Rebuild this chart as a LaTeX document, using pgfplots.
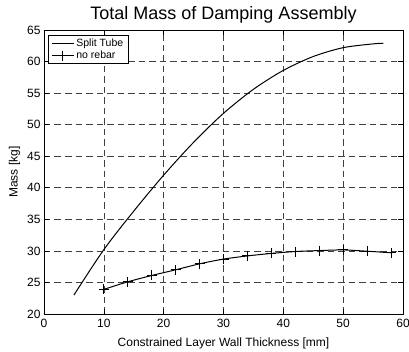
\documentclass[border=0pt]{standalone}
\usepackage{fontspec}
\setmainfont{Liberation Sans}
\usepackage{pgfplots}
\pgfplotsset{compat=1.18}
\begin{document}
\begin{tikzpicture}[x=1pt,y=1pt]
\begin{axis}[
  at={(0pt,0pt)}, anchor=south west,
  scale only axis,
  width=359pt, height=284pt,
  xmin=0, xmax=60, ymin=20, ymax=65,
  xtick={0,10,...,60}, ytick={20,25,...,65},
  tick align=inside, major tick length=5pt,
  tick style={black, line width=0.6pt},
  axis line style={black, line width=0.7pt},
  grid=major,
  major grid style={black!75, dash pattern=on 6.5pt off 4pt, line width=0.6pt},
  /pgf/number format/assume math mode=true,
  ticklabel style={font=\fontsize{12}{14}\selectfont},
  xticklabel style={anchor=base, yshift=-14pt},
  title={Total Mass of Damping Assembly},
  title style={font=\fontsize{18}{20}\selectfont, anchor=base, yshift=4pt},
  xlabel={Constrained Layer Wall Thickness [mm]},
  ylabel={Mass [kg]},
  label style={font=\fontsize{12}{14}\selectfont},
  xlabel style={at={(axis description cs:0.5,0)}, anchor=base, yshift=-33pt},
  ylabel style={at={(axis description cs:-0.0822,0.5)}, anchor=center},
  legend style={at={(axis description cs:0.0111,0.9824)}, anchor=north west, draw=black, line width=0.7pt,
    font=\fontsize{10.5}{12}\selectfont, inner xsep=3pt, inner ysep=1.5pt, row sep=-1pt, legend cell align=left},
  legend image code/.code={\draw[#1] (0pt,0pt) -- (22pt,0pt); \draw[#1, mark repeat=1] plot coordinates {(11pt,0pt)};},
]
\addplot[black, line width=1pt, smooth, no marks] coordinates {
(5,23.0) (10,30.2) (15,36.3) (20,42.0) (25,47.2) (30,51.8) (35,55.6) (40,58.6) (45,60.8) (50,62.2) (55,62.8) (56.7,62.9)};
\addlegendentry{Split Tube}
\addplot[black, line width=1pt, smooth, mark=+, mark size=5pt, mark options={line width=1pt}] coordinates {
(10,23.9) (14,25.1) (18,26.1) (22,27.0) (26,27.95) (30,28.7) (34,29.2) (38,29.6) (42,29.9) (46,30.05) (50,30.15) (54,29.95) (58,29.7)};
\addlegendentry{no rebar}
\end{axis}
\pgfresetboundingbox
\useasboundingbox (-44pt,-38pt) rectangle (365pt,314pt);
\end{tikzpicture}
\end{document}
